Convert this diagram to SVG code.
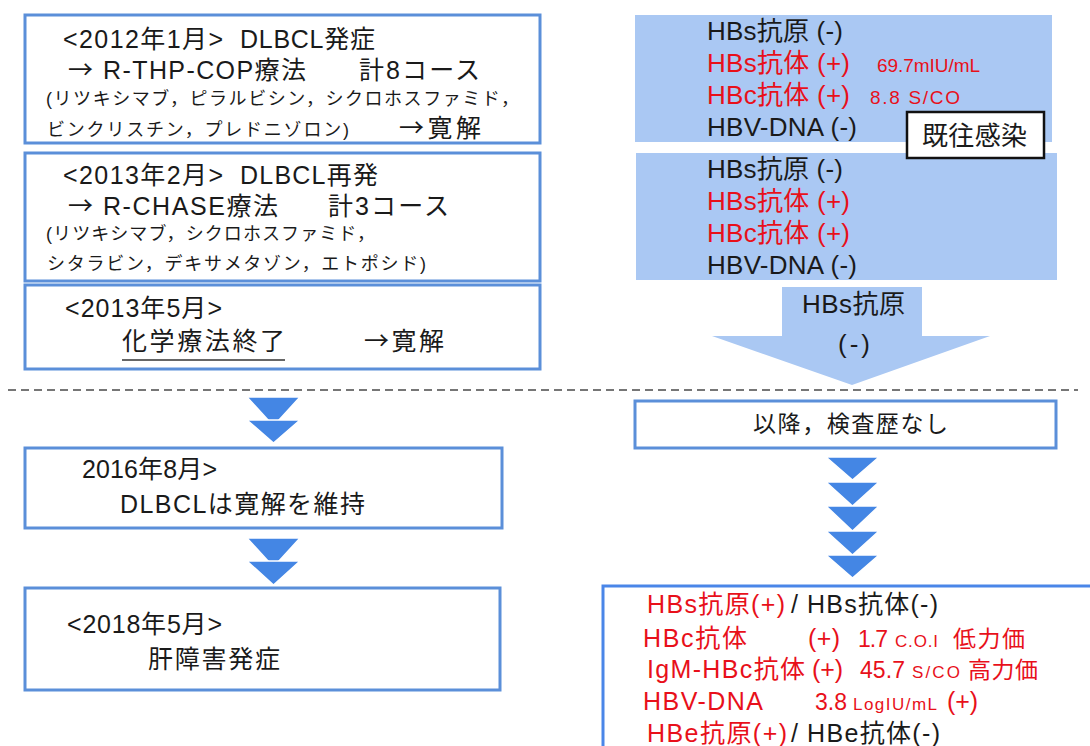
<svg xmlns="http://www.w3.org/2000/svg" width="1090" height="746" viewBox="0 0 1090 746">
<style>
  text { font-family: 'Liberation Sans', 'Noto Sans CJK JP', sans-serif; fill: #1a1a1a; }
  .cj { font-family: 'Noto Sans CJK JP', sans-serif; }
  .m { font-size: 25px; }
  .s { font-size: 18px; }
  .r { font-size: 26px; }
  .rs { font-size: 19px; }
  .n { font-size: 23px; }
  .u { font-size: 17px; }
  .red { fill: #e8101a; }
  .box { fill: #ffffff; stroke: #5b8fd9; stroke-width: 3; }
  .box2 { fill: #ffffff; stroke: #4a86e8; stroke-width: 3; }
  .panel { fill: #aac8f3; }
  .chev { fill: #4486e4; stroke: #ffffff; stroke-width: 1.5; stroke-linejoin: miter; }
</style>
<rect width="1090" height="746" fill="#ffffff"/>

<!-- separator -->
<line x1="8" y1="390" x2="1078" y2="390" stroke="#4a4a4a" stroke-width="1.5" stroke-dasharray="8 5"/>

<g id="node-2012">
  <rect class="box" x="25" y="15" width="515" height="128"/>
  <text class="m" x="63" y="48" textLength="160" lengthAdjust="spacing">&lt;2012年1月&gt;</text>
  <text class="m" x="240" y="48" textLength="135" lengthAdjust="spacing">DLBCL発症</text>
  <text class="m cj" x="68" y="79">→</text>
  <text class="m" x="103" y="79" textLength="203" lengthAdjust="spacing">R-THP-COP療法</text>
  <text class="m" x="359" y="79" textLength="121" lengthAdjust="spacing">計8コース</text>
  <text class="s" x="46" y="105" textLength="473" lengthAdjust="spacing">(リツキシマブ，ピラルビシン，シクロホスファミド，</text>
  <text class="s" x="47" y="136" textLength="302" lengthAdjust="spacing">ビンクリスチン，プレドニゾロン)</text>
  <text class="m cj" x="399" y="137" textLength="82" lengthAdjust="spacing">→寛解</text>
</g>

<g id="node-2013-02">
  <rect class="box" x="25" y="153" width="515" height="128"/>
  <text class="m" x="63" y="184" textLength="160" lengthAdjust="spacing">&lt;2013年2月&gt;</text>
  <text class="m" x="240" y="184" textLength="138" lengthAdjust="spacing">DLBCL再発</text>
  <text class="m cj" x="68" y="215">→</text>
  <text class="m" x="103" y="215" textLength="175" lengthAdjust="spacing">R-CHASE療法</text>
  <text class="m" x="328" y="215" textLength="121" lengthAdjust="spacing">計3コース</text>
  <text class="s" x="46" y="240" textLength="329" lengthAdjust="spacing">(リツキシマブ，シクロホスファミド，</text>
  <text class="s" x="47" y="270" textLength="379" lengthAdjust="spacing">シタラビン，デキサメタゾン，エトポシド)</text>
</g>

<g id="node-2013-05">
  <rect class="box" x="25" y="285" width="515" height="84"/>
  <text class="m" x="65" y="317" textLength="157" lengthAdjust="spacing">&lt;2013年5月&gt;</text>
  <text class="m" x="122" y="350" textLength="163" lengthAdjust="spacing">化学療法終了</text>
  <line x1="122" y1="360" x2="285" y2="360" stroke="#333333" stroke-width="1.5"/>
  <text class="m cj" x="364" y="350" textLength="80" lengthAdjust="spacing">→寛解</text>
</g>

<g id="node-2016">
  <rect class="box" x="25" y="448" width="477" height="80"/>
  <text class="m" x="82" y="478" textLength="135" lengthAdjust="spacing">2016年8月&gt;</text>
  <text class="m" x="120" y="513" textLength="245" lengthAdjust="spacing">DLBCLは寛解を維持</text>
</g>

<g id="node-2018">
  <rect class="box" x="25" y="588" width="475" height="102"/>
  <text class="m" x="67" y="633" textLength="155" lengthAdjust="spacing">&lt;2018年5月&gt;</text>
  <text class="m" x="148" y="668" textLength="132" lengthAdjust="spacing">肝障害発症</text>
</g>

<g id="panel-1">
  <rect class="panel" x="635" y="15" width="417" height="127"/>
  <text class="r" x="707" y="40" textLength="136" lengthAdjust="spacing">HBs抗原 (-)</text>
  <text class="r red" x="707" y="72" textLength="143" lengthAdjust="spacing">HBs抗体 (+)</text>
  <text class="rs red" x="877" y="72" textLength="103" lengthAdjust="spacing">69.7mIU/mL</text>
  <text class="r red" x="707" y="104" textLength="143" lengthAdjust="spacing">HBc抗体 (+)</text>
  <text class="rs red" x="870" y="104" textLength="90" lengthAdjust="spacing">8.8 S/CO</text>
  <text class="r" x="707" y="136" textLength="150" lengthAdjust="spacing">HBV-DNA (-)</text>
</g>

<g id="panel-2">
  <rect class="panel" x="636" y="153" width="421" height="127"/>
  <text class="r" x="707" y="178" textLength="136" lengthAdjust="spacing">HBs抗原 (-)</text>
  <text class="r red" x="707" y="210" textLength="143" lengthAdjust="spacing">HBs抗体 (+)</text>
  <text class="r red" x="707" y="242" textLength="143" lengthAdjust="spacing">HBc抗体 (+)</text>
  <text class="r" x="707" y="274" textLength="150" lengthAdjust="spacing">HBV-DNA (-)</text>
</g>

<g id="label-kiou">
  <rect x="907" y="112" width="137" height="46" fill="#ffffff" stroke="#111111" stroke-width="2.5"/>
  <text class="r" x="922" y="145" textLength="105" lengthAdjust="spacing">既往感染</text>
</g>

<g id="node-nokensa">
  <rect class="box" x="635" y="401" width="421" height="47"/>
  <text class="n" x="753" y="432" textLength="195" lengthAdjust="spacing">以降，検査歴なし</text>
</g>

<g id="node-result">
  <rect class="box2" x="603" y="586" width="500" height="200"/>
  <text class="m red" x="647" y="613" textLength="138" lengthAdjust="spacing">HBs抗原(+)</text>
  <text class="m" x="791" y="613">/</text>
  <text class="m" x="807" y="613" textLength="131" lengthAdjust="spacing">HBs抗体(-)</text>

  <text class="m red" x="643" y="647" textLength="104" lengthAdjust="spacing">HBc抗体</text>
  <text class="m red" x="808" y="647" textLength="32" lengthAdjust="spacing">(+)</text>
  <text class="n red" x="858" y="647" textLength="30" lengthAdjust="spacing">1.7</text>
  <text class="u red" x="895" y="647" textLength="43" lengthAdjust="spacing">C.O.I</text>
  <text class="n red" x="953" y="647" textLength="72" lengthAdjust="spacing">低力価</text>

  <text class="m red" x="647" y="678" textLength="158" lengthAdjust="spacing">IgM-HBc抗体</text>
  <text class="m red" x="812" y="678" textLength="31" lengthAdjust="spacing">(+)</text>
  <text class="n red" x="860" y="678" textLength="45" lengthAdjust="spacing">45.7</text>
  <text class="u red" x="912" y="678" textLength="48" lengthAdjust="spacing">S/CO</text>
  <text class="n red" x="968" y="678" textLength="70" lengthAdjust="spacing">高力価</text>

  <text class="m red" x="643" y="710" textLength="120" lengthAdjust="spacing">HBV-DNA</text>
  <text class="n red" x="815" y="710" textLength="32" lengthAdjust="spacing">3.8</text>
  <text class="u red" x="853" y="710" textLength="84" lengthAdjust="spacing">LogIU/mL</text>
  <text class="m red" x="947" y="710" textLength="31" lengthAdjust="spacing">(+)</text>

  <text class="m red" x="647" y="742" textLength="140" lengthAdjust="spacing">HBe抗原(+)</text>
  <text class="m" x="791" y="742">/</text>
  <text class="m" x="807" y="742" textLength="133" lengthAdjust="spacing">HBe抗体(-)</text>
</g>

<g id="connectors">
  <g id="big-arrow">
    <polygon class="panel" points="782,287 922,287 922,336 990,336 852,385 712,336 782,336"/>
    <text class="r" x="802" y="313" textLength="103" lengthAdjust="spacing">HBs抗原</text>
    <text class="r" x="838" y="353" textLength="32" lengthAdjust="spacing">(-)</text>
  </g>
  <g id="chevrons-left-1">
    <polygon class="chev" points="247,397 300,397 273.5,426"/>
    <polygon class="chev" points="247,420 300,420 273.5,443"/>
  </g>
  <g id="chevrons-left-2">
    <polygon class="chev" points="247,538 300,538 273.5,567"/>
    <polygon class="chev" points="247,561 300,561 273.5,585"/>
  </g>
  <g id="chevrons-right">
    <polygon class="chev" points="826,457 879,457 852.5,480"/>
    <polygon class="chev" points="826,482 879,482 852.5,506"/>
    <polygon class="chev" points="826,506 879,506 852.5,531"/>
    <polygon class="chev" points="826,531 879,531 852.5,555"/>
    <polygon class="chev" points="826,555 879,555 852.5,578"/>
  </g>
</g>
</svg>
